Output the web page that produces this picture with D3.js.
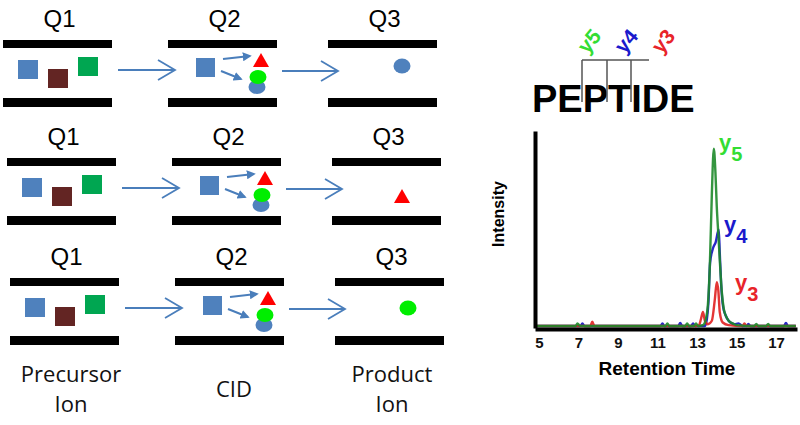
<!DOCTYPE html>
<html><head><meta charset="utf-8">
<script src="https://cdn.jsdelivr.net/npm/d3@7"></script>
<style>body{margin:0;background:#fff}svg{display:block}</style>
</head><body>
<svg id="c" width="800" height="425"></svg>
<script>
// ---------- data ----------
const stages = ["Q1", "Q2", "Q3"];
const precursorIons = ["blue", "brown", "green"];
const productIons = ["blueCircle", "redTriangle", "greenCircle"];
const captions = [["Precursor", "Ion"], ["CID"], ["Product", "Ion"]];
const peptide = "PEPTIDE";
const fragmentLabels = ["y5", "y4", "y3"];
const xTicks = [5, 7, 9, 11, 13, 15, 17];
const xTitle = "Retention Time";
const yTitle = "Intensity";

const rtY5 = [4.8, 6.85, 6.95, 7.05, 7.15, 11.4, 11.5, 11.6, 12.4, 12.5, 12.6, 12.85, 12.95, 13.05, 13.3, 13.45, 13.55, 13.65, 13.75, 13.85, 13.93, 14.0, 14.08, 14.16, 14.25, 14.35, 14.45, 14.6, 14.8, 15.0, 15.9, 16.0, 16.1, 16.5, 16.6, 16.7, 18.0];
const intY5 = [0, 0, 1.5, 0.3, 0, 0, 1.5, 0, 0, 1.5, 0, 0, 1.5, 0, 0.5, 4, 12, 35, 75, 101, 88, 68, 52, 36, 20, 10, 6, 3, 1.5, 0.5, 0, 1.2, 0, 0, 1.2, 0, 0];
const rtY4 = [4.8, 7.1, 7.2, 7.3, 11.15, 11.25, 11.35, 12.05, 12.15, 12.25, 12.7, 12.8, 12.9, 13.4, 13.5, 13.58, 13.66, 13.8, 13.95, 14.1, 14.15, 14.22, 14.32, 14.45, 14.6, 14.9, 15.1, 15.3, 15.5, 15.6, 15.7, 17.4, 17.5, 17.6, 18.0];
const intY4 = [0, 0, 1.5, 0, 0, 1.5, 0, 0, 1.8, 0, 0, 1.5, 0, 0, 4, 14, 36, 44, 48, 55, 42, 24, 11, 6, 3, 1, 1.5, 0, 0, 1.2, 0, 0, 1.8, 0, 0];
const rtY3 = [4.8, 7.6, 7.7, 7.8, 12.9, 13.1, 13.2, 13.3, 13.4, 13.55, 13.75, 13.9, 14.0, 14.08, 14.15, 14.3, 14.6, 15.3, 15.4, 15.5, 18.0];
const intY3 = [0, 0, 2.5, 0, 0, 0.5, 4, 8, 3, 1, 3, 15, 25, 20, 8, 2, 0.5, 0, 1.5, 0, 0];

// ---------- diagram ----------
const svg = d3.select("#c");
const arrowCol = "#4a7ebb";
const rowDx = [0, 4, 7], rowDy = [0, 118, 238];
const barX = [3, 168, 328], barW = 109, barH = 8, barTop = 40, barBot = 98;
const sqPos = [[18, 60], [48, 69], [78, 57]];
const sqCol = {blue: "#4f81bd", brown: "#632523", green: "#00a651"};
const prodPos = [[402, 66], [398, 78], [401, 70]];

const defs = svg.append("defs");
defs.append("marker").attr("id", "ah").attr("viewBox", "0 0 10 10")
  .attr("refX", 8).attr("refY", 5).attr("markerWidth", 4.5).attr("markerHeight", 4.5)
  .attr("markerUnits", "strokeWidth").attr("orient", "auto")
  .append("path").attr("d", "M0,0L10,5L0,10z").attr("fill", arrowCol);

function bigArrow(g, x1, x2, y) {
  g.append("line").attr("x1", x1).attr("x2", x2).attr("y1", y).attr("y2", y)
    .attr("stroke", arrowCol).attr("stroke-width", 1.8);
  g.append("polyline").attr("points", `${x2 - 17},${y - 10} ${x2},${y} ${x2 - 17},${y + 10}`)
    .attr("fill", "none").attr("stroke", arrowCol).attr("stroke-width", 1.8);
}
function tri(g, cx, top, col) {
  g.append("path").attr("d", `M${cx},${top}L${cx + 8},${top + 14}L${cx - 8},${top + 14}Z`).attr("fill", col);
}

productIons.forEach((prod, r) => {
  const g = svg.append("g").attr("transform", `translate(${rowDx[r]},${rowDy[r]})`);
  stages.forEach((s, i) => {
    g.append("rect").attr("x", barX[i]).attr("y", barTop).attr("width", barW).attr("height", barH).attr("fill", "#000");
    g.append("rect").attr("x", barX[i]).attr("y", barBot).attr("width", barW).attr("height", barH + 1).attr("fill", "#000");
    g.append("text").attr("x", barX[i] + barW / 2 + 2).attr("y", 27).attr("text-anchor", "middle")
      .attr("font-family", "Liberation Sans, Arial, sans-serif").attr("font-size", 24).text(s);
  });
  precursorIons.forEach((c, i) => {
    g.append("rect").attr("x", sqPos[i][0]).attr("y", sqPos[i][1]).attr("width", 20).attr("height", 19).attr("fill", sqCol[c]);
  });
  bigArrow(g, 118, 175, 70);
  // Q2 CID
  g.append("rect").attr("x", 196).attr("y", 58).attr("width", 19).attr("height", 19).attr("fill", sqCol.blue);
  g.append("line").attr("x1", 223).attr("y1", 59).attr("x2", 250).attr("y2", 56)
    .attr("stroke", arrowCol).attr("stroke-width", 2).attr("marker-end", "url(#ah)");
  g.append("line").attr("x1", 221).attr("y1", 71).attr("x2", 241).attr("y2", 79)
    .attr("stroke", arrowCol).attr("stroke-width", 2).attr("marker-end", "url(#ah)");
  tri(g, 261, 53, "#ff0000");
  g.append("ellipse").attr("cx", 257).attr("cy", 87).attr("rx", 8.5).attr("ry", 7).attr("fill", "#4f81bd");
  g.append("ellipse").attr("cx", 258).attr("cy", 77).attr("rx", 8.5).attr("ry", 7).attr("fill", "#00ee00");
  bigArrow(g, 282, 338, 71);
  // Q3 product
  const p = prodPos[r];
  if (prod === "redTriangle") tri(g, p[0], p[1] - 7, "#ff0000");
  else g.append("ellipse").attr("cx", p[0]).attr("cy", p[1]).attr("rx", 8.5).attr("ry", 7.5)
    .attr("fill", prod === "blueCircle" ? "#4f81bd" : "#00ee00");
});

const capX = [71, 234, 392];
captions.forEach((lines, i) => {
  const t = svg.append("text").attr("text-anchor", "middle").attr("font-family", "Open Sans, sans-serif")
    .attr("font-size", 22).attr("fill", "#111");
  lines.forEach((l, k) => {
    const yy = lines.length === 1 ? 397 : (k === 0 ? 382 : 412);
    t.append("tspan").attr("x", capX[i]).attr("y", yy).text(l);
  });
});

// ---------- peptide ----------
svg.append("text").attr("x", 532).attr("y", 112).attr("font-family", "Liberation Sans, Arial, sans-serif")
  .attr("font-weight", "bold").attr("font-size", 38).text(peptide);
const cutX = [582, 607, 631];
cutX.forEach(cx => {
  svg.append("line").attr("x1", cx).attr("x2", cx).attr("y1", 60).attr("y2", 102).attr("stroke", "#555").attr("stroke-width", 1.5);
});
svg.append("line").attr("x1", 582).attr("x2", 649).attr("y1", 60).attr("y2", 60).attr("stroke", "#555").attr("stroke-width", 1.5);
const fragCol = ["#33dd33", "#1a1acc", "#e8242a"];
const fragLabX = [589, 626, 663];
fragmentLabels.forEach((l, i) => {
  svg.append("text").attr("transform", `translate(${fragLabX[i]},41) rotate(-50)`)
    .attr("text-anchor", "middle").attr("dy", "0.35em").attr("font-family", "Liberation Sans, Arial, sans-serif")
    .attr("font-weight", "bold").attr("font-size", 21).attr("fill", fragCol[i]).text(l);
});

// ---------- chromatogram ----------
const x = d3.scaleLinear().domain([4.8, 18.06]).range([535, 797]);
const y = d3.scaleLinear().domain([0, 110]).range([326, 133]);
const line = d3.line().x(d => x(d[0])).y(d => y(d[1])).curve(d3.curveMonotoneX);
const series = [
  {t: rtY4, v: intY4, col: "#1010c0"},
  {t: rtY3, v: intY3, col: "#e02020"},
  {t: rtY5, v: intY5, col: "#1e8a2a"}
];
series.forEach(s => {
  svg.append("path").datum(s.t.map((t, i) => [t, s.v[i]])).attr("d", line)
    .attr("fill", "none").attr("stroke", s.col).attr("stroke-width", 2.4).attr("stroke-opacity", 0.9);
});
const xa = svg.append("g").attr("transform", "translate(0,329)")
  .call(d3.axisBottom(x).tickValues(xTicks).tickSize(0).tickSizeOuter(0).tickPadding(8));
xa.select(".domain").attr("stroke", "#000").attr("stroke-width", 4);
xa.selectAll("text").attr("font-family", "Liberation Sans, Arial, sans-serif").attr("font-weight", "bold").attr("font-size", 15).attr("fill", "#111");
const ya = svg.append("g").attr("transform", "translate(535,0)")
  .call(d3.axisLeft(y).tickValues([]).tickSizeOuter(0));
ya.select(".domain").attr("stroke", "#000").attr("stroke-width", 4).attr("stroke-linecap", "square");

svg.append("text").attr("x", 667).attr("y", 375).attr("text-anchor", "middle")
  .attr("font-family", "Liberation Sans, Arial, sans-serif").attr("font-weight", "bold").attr("font-size", 19).text(xTitle);
svg.append("text").attr("transform", "translate(504,214) rotate(-90)").attr("text-anchor", "middle")
  .attr("font-family", "Liberation Sans, Arial, sans-serif").attr("font-weight", "bold").attr("font-size", 16).text(yTitle);

// peak labels
const peakLab = [[719, 150], [724, 232], [735, 290]];
fragmentLabels.forEach((l, i) => {
  const t = svg.append("text").attr("x", peakLab[i][0]).attr("y", peakLab[i][1])
    .attr("font-family", "Liberation Sans, Arial, sans-serif").attr("font-weight", "bold").attr("font-size", 22).attr("fill", fragCol[i]);
  t.append("tspan").text(l[0]);
  t.append("tspan").attr("dy", 11).attr("font-size", 20).text(l[1]);
});
</script>
</body></html>
